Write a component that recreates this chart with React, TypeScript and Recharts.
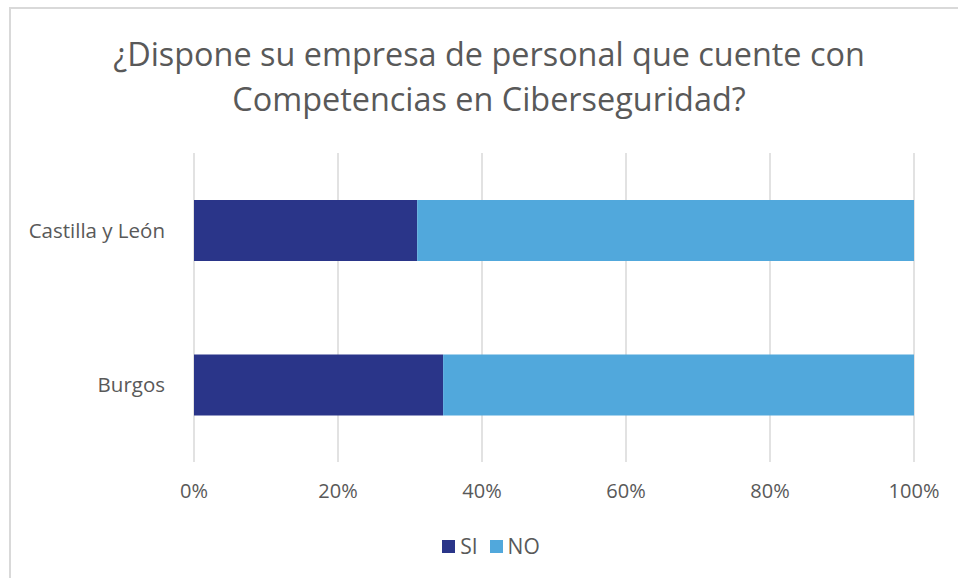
import React from 'react';
import { BarChart, Bar, XAxis, YAxis, CartesianGrid } from 'recharts';

// Datos (porcentajes)
const categories = ['Castilla y León', 'Burgos'];
const siValues = [31, 34.6];
const noValues = [69, 65.4];
const xTicks = [0, 20, 40, 60, 80, 100];

const SI_COLOR = '#2A3589';
const NO_COLOR = '#51A8DC';
const TEXT_COLOR = '#595959';
const FONT = '"Open Sans", "Noto Sans", sans-serif';

const data = categories.map((name, i) => ({ name, si: siValues[i], no: noValues[i] }));

const App: React.FC = () => {
  return (
    <div style={{ position: 'absolute', left: 0, top: 0, width: 958, height: 578, background: '#fff', fontFamily: FONT }}>
      <div
        style={{
          position: 'absolute',
          left: 9,
          top: 7,
          width: 960,
          height: 580,
          borderLeft: '2px solid #d9d9d9',
          borderTop: '2px solid #d9d9d9',
        }}
      />
      <div
        style={{
          position: 'absolute',
          left: 0,
          top: 31,
          width: 978,
          textAlign: 'center',
          color: TEXT_COLOR,
          fontSize: 32.4,
          lineHeight: '45px',
        }}
      >
        ¿Dispone su empresa de personal que cuente con
        <br />
        Competencias en Ciberseguridad?
      </div>
      <div style={{ position: 'absolute', left: 0, top: 0 }}>
        <BarChart
          width={958}
          height={560}
          data={data}
          layout="vertical"
          margin={{ top: 153, right: 44, bottom: 58, left: 14 }}
          barSize={61}
        >
          <CartesianGrid horizontal={false} stroke="#d9d9d9" strokeWidth={1.5} />
          <XAxis
            type="number"
            domain={[0, 100]}
            ticks={xTicks}
            tickFormatter={(v) => `${v}%`}
            axisLine={false}
            tickLine={false}
            tick={{ fill: TEXT_COLOR, fontSize: 20, fontFamily: FONT }}
            tickMargin={16}
            height={40}
          />
          <YAxis
            type="category"
            dataKey="name"
            width={180}
            axisLine={false}
            tickLine={false}
            tick={{ fill: TEXT_COLOR, fontSize: 20.5, fontFamily: FONT }}
            tickMargin={23}
          />
          <Bar dataKey="si" stackId="a" fill={SI_COLOR} isAnimationActive={false} />
          <Bar dataKey="no" stackId="a" fill={NO_COLOR} isAnimationActive={false} />
        </BarChart>
      </div>
      <div
        style={{
          position: 'absolute',
          top: 532,
          left: 0,
          width: 982,
          display: 'flex',
          justifyContent: 'center',
          gap: 12,
          color: TEXT_COLOR,
          fontSize: 21,
        }}
      >
        <span style={{ display: 'flex', alignItems: 'center' }}>
          <span style={{ width: 13, height: 13, background: SI_COLOR, marginRight: 5 }} />
          SI
        </span>
        <span style={{ display: 'flex', alignItems: 'center' }}>
          <span style={{ width: 13, height: 13, background: NO_COLOR, marginRight: 5 }} />
          NO
        </span>
      </div>
    </div>
  );
};

export default App;
